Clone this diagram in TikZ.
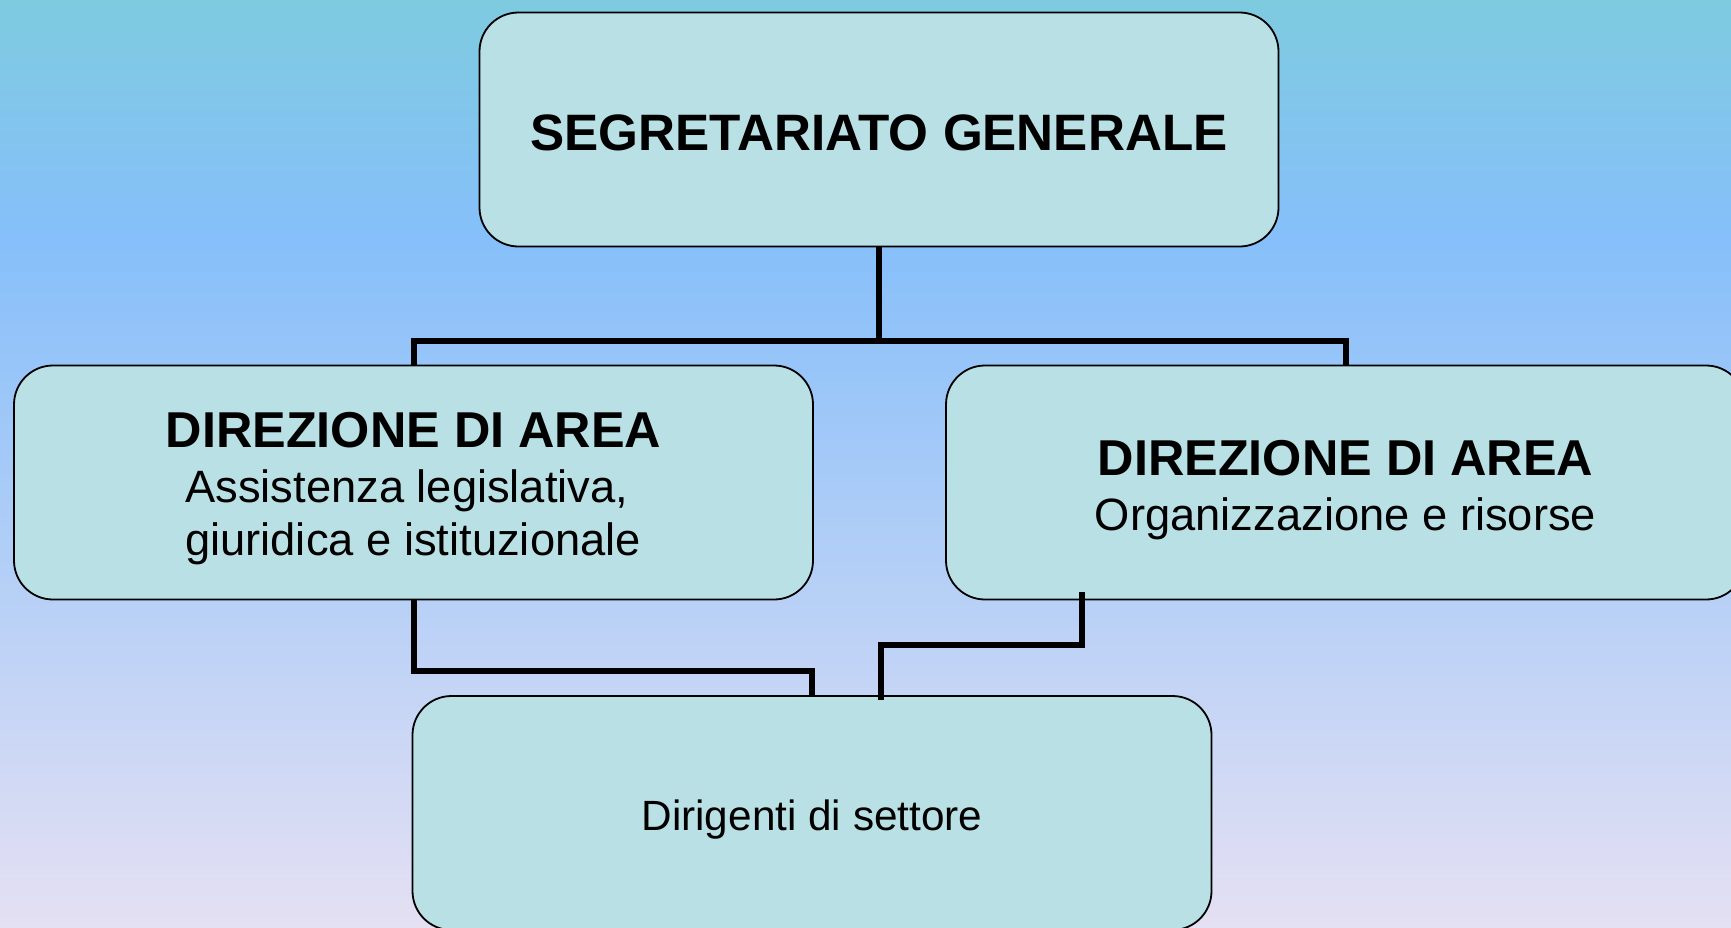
\documentclass[tikz,border=0pt]{standalone}
\usepackage{fontspec}
\setmainfont{Liberation Sans}
\usetikzlibrary{calc}
\definecolor{bgA}{HTML}{7ECBE0}
\definecolor{bgB}{HTML}{86BFFA}
\definecolor{bgC}{HTML}{E5E0F3}
\definecolor{boxfill}{HTML}{B9E0E4}
\tikzset{
  orgbox/.style={draw=black, line width=1.8pt, fill=boxfill, rounded corners=39pt,
    minimum width=799pt, minimum height=234pt, inner sep=0pt},
  link/.style={draw=black, line width=6pt},
  titletxt/.style={font=\fontsize{51.2}{60}\selectfont\bfseries, inner sep=0pt},
  boldtxt/.style={font=\fontsize{50.4}{60}\selectfont\bfseries, inner sep=0pt},
  regtxt/.style={font=\fontsize{45.3}{54}\selectfont, inner sep=0pt},
  smalltxt/.style={font=\fontsize{42.3}{50}\selectfont, inner sep=0pt}
}
\begin{document}
\begin{tikzpicture}[x=1pt,y=-1pt]
\useasboundingbox (0,0) rectangle (1731,927);
\clip (0,0) rectangle (1731,927);
\shade[top color=bgA, bottom color=bgB] (0,0) rectangle (1731,240);
\shade[top color=bgB, bottom color=bgC] (0,239) rectangle (1731,927);

\node[orgbox] (top) at (879,129.5) {};
\node[orgbox] (left) at (413.5,482.5) {};
\node[orgbox] (right) at (1345.5,482.5) {};
\node[orgbox] (bot) at (812,813) {};

\node[titletxt, anchor=base] (tTop) at ($(top.center)+(0,21)$) {SEGRETARIATO GENERALE};
\node[boldtxt, anchor=base] (tL1) at ($(left.center)+(0,-35.5)$) {DIREZIONE DI AREA};
\node[regtxt, anchor=base west] (tL2) at ($(left.center)+(-228.5,19.5)$) {Assistenza legislativa,};
\node[regtxt, anchor=base west] (tL3) at ($(left.center)+(-228.5,72.5)$) {giuridica e istituzionale};
\node[boldtxt, anchor=base] (tR1) at ($(right.center)+(0,-7.5)$) {DIREZIONE DI AREA};
\node[regtxt, anchor=base] (tR2) at ($(right.center)+(0,47.5)$) {Organizzazione e risorse};
\node[smalltxt, anchor=base] (tBot) at ($(bot.center)+(0,17)$) {Dirigenti di settore};

\coordinate (hub) at ($(top.south)+(0,94)$);
\draw[link] (top.south) -- (hub);
\draw[link] (left.north) |- (hub) -| (right.north);
\draw[link] (left.south) -- ++(0,71) -| (bot.north);
\coordinate (rs) at (1082,592);
\coordinate (be) at (881,700);
\draw[link] (rs) -- ++(0,53) -| (be);
\end{tikzpicture}
\end{document}
